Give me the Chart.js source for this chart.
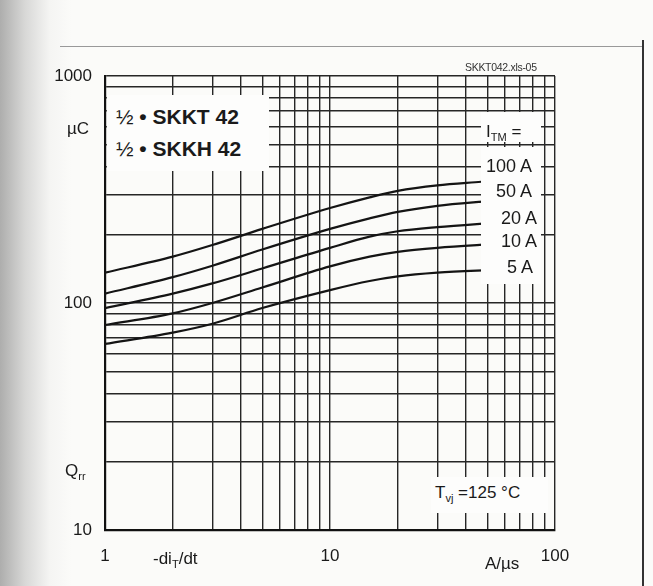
<!DOCTYPE html>
<html>
<head>
<meta charset="utf-8">
<script src="https://cdn.jsdelivr.net/npm/chart.js@4/dist/chart.umd.min.js"></script>
<style>
  html, body { margin:0; padding:0; background:#fbfbf9; }
  #wrap { position:relative; width:653px; height:586px; overflow:hidden; font-family:"Liberation Sans", Arial, sans-serif; color:#1a1a1a; }
  #scan { position:absolute; left:0; top:0; width:75px; height:586px;
    background: linear-gradient(to right, rgba(110,110,110,0.55) 0px, rgba(150,150,150,0.35) 25px, rgba(200,200,200,0.12) 50px, rgba(255,255,255,0) 72px); }
  #frameR { position:absolute; left:642px; top:40px; width:2px; height:546px; background:#333; }
  #frameT { position:absolute; left:60px; top:46px; width:584px; height:1px; background:#999; }
  canvas { position:absolute; left:0; top:0; }
  .t { position:absolute; white-space:nowrap; line-height:1; transform:translateY(-50%); }
  .box { position:absolute; background:#fdfdfc; }
  sub { font-size:0.65em; vertical-align:-0.35em; }
</style>
</head>
<body>
<div id="wrap">
  <div id="scan"></div>
  <div id="frameT"></div>
  <div id="frameR"></div>
  <canvas id="c" width="653" height="586"></canvas>

  <div class="box" style="left:107px; top:95px; width:162px; height:76px;"></div>
  <div class="t" style="left:116px; top:116px; font-size:21px; font-weight:bold;"><span style="font-weight:normal">½</span> • SKKT 42</div>
  <div class="t" style="left:116px; top:148px; font-size:21px; font-weight:bold;"><span style="font-weight:normal">½</span> • SKKH 42</div>

  <div class="box" style="left:481px; top:112px; width:60px; height:30px;"></div>
  <div class="box" style="left:481px; top:147px; width:60px; height:137px;"></div>
  <div class="t" style="left:486px; top:133px; font-size:17px;">I<sub>TM</sub> =</div>
  <div class="t" style="left:486px; top:166px; font-size:18px;">100 A</div>
  <div class="t" style="left:496px; top:191px; font-size:18px;">50 A</div>
  <div class="t" style="left:501px; top:218px; font-size:18px;">20 A</div>
  <div class="t" style="left:501px; top:241px; font-size:18px;">10 A</div>
  <div class="t" style="left:507px; top:267px; font-size:18px;">5 A</div>

  <div class="box" style="left:431px; top:477px; width:117px; height:36px;"></div>
  <div class="t" style="left:435px; top:494px; font-size:17px;">T<sub>vj</sub> =125 °C</div>

  <div class="t" style="left:465px; top:67px; font-size:10.5px; letter-spacing:-0.3px; color:#333;">SKKT042.xls-05</div>

  <div class="t" style="left:67px; top:128px; font-size:17px;">µC</div>
  <div class="t" style="left:65px; top:472px; font-size:17px;">Q<sub>rr</sub></div>
  <div class="t" style="left:153px; top:560px; font-size:17px;">-di<sub>T</sub>/dt</div>
  <div class="t" style="left:485px; top:563px; font-size:17px;">A/µs</div>
</div>

<script>
// ---- data ----
const xTicks = [1,2,3,4,5,6,7,8,9,10,20,30,40,50,60,70,80,90,100];
const yTicks = [10,20,30,40,50,60,70,80,90,100,200,300,400,500,600,700,800,900,1000];
const xTickLabels = [1,10,100];
const yTickLabels = [10,100,1000];

const x100A = [1,2,3,5,10,15,20,30,47];
const q100A = [136,160,180,212,262,292,312,330,342];
const x50A  = [1,2,3,5,10,15,20,30,52];
const q50A  = [110,130,146,172,212,236,252,268,282];
const x20A  = [1,2,3,5,10,15,20,30,55];
const q20A  = [95,110,122,142,175,196,207,216,226];
const x10A  = [1,2,3,5,10,15,20,30,55];
const q10A  = [80,90,100,117,145,160,168,175,182];
const x5A   = [1,2,3,5,10,15,20,30,55];
const q5A   = [66,74,81,95,114,125,131,136,140];

function pts(xs, ys){ return xs.map((x,i)=>({x:x, y:ys[i]})); }

const lineStyle = { borderColor:'#141414', borderWidth:2.2, pointRadius:0, fill:false, cubicInterpolationMode:'monotone' };

const tickFont = { family:'"Liberation Sans", Arial, sans-serif', size:17 };

new Chart(document.getElementById('c'), {
  type:'line',
  data:{ datasets:[
    Object.assign({label:'100 A', data:pts(x100A,q100A)}, lineStyle),
    Object.assign({label:'50 A',  data:pts(x50A,q50A)}, lineStyle),
    Object.assign({label:'20 A',  data:pts(x20A,q20A)}, lineStyle),
    Object.assign({label:'10 A',  data:pts(x10A,q10A)}, lineStyle),
    Object.assign({label:'5 A',   data:pts(x5A,q5A)}, lineStyle)
  ]},
  options:{
    responsive:false, animation:false, devicePixelRatio:1,
    layout:{ padding:{ top:76, right:98, left:0, bottom:0 } },
    plugins:{ legend:{display:false}, tooltip:{enabled:false} },
    scales:{
      x:{
        type:'logarithmic', min:1, max:100,
        afterBuildTicks: s => { s.ticks = xTicks.map(v=>({value:v})); },
        afterFit: s => { s.height = 56; },
        ticks:{ autoSkip:false, maxRotation:0, padding:16, color:'#1a1a1a', font:tickFont,
                callback: v => xTickLabels.includes(v) ? String(v) : '' },
        grid:{ color:'#262626', lineWidth:1.4, drawTicks:false },
        border:{ color:'#111', width:2.2 }
      },
      y:{
        type:'logarithmic', min:10, max:1000,
        afterBuildTicks: s => { s.ticks = yTicks.map(v=>({value:v})); },
        afterFit: s => { s.width = 105; },
        ticks:{ autoSkip:false, padding:13, color:'#1a1a1a', font:tickFont,
                callback: v => yTickLabels.includes(v) ? String(v) : '' },
        grid:{ color:'#262626', lineWidth:1.4, drawTicks:false },
        border:{ color:'#111', width:2.2 }
      }
    }
  }
});
</script>
</body>
</html>
